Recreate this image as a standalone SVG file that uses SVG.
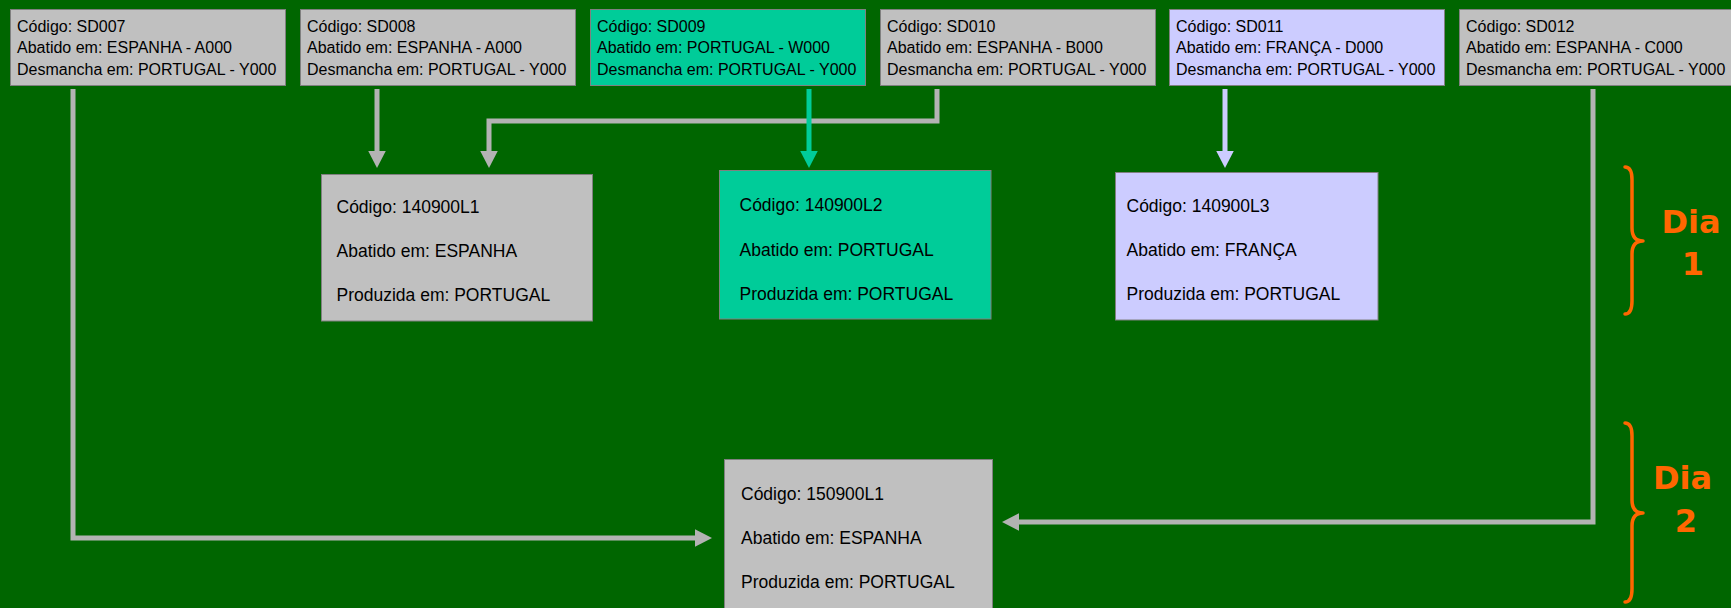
<svg xmlns="http://www.w3.org/2000/svg" width="1731" height="608" viewBox="0 0 1731 608">
  <style>
    .box { stroke: #808080; stroke-width: 1; }
    .gray { fill: #c0c0c0; }
    .teal { fill: #00cc99; }
    .lav { fill: #ccccff; }
    .t16 { font-family: "Liberation Sans", Arial, sans-serif; font-size: 16px; fill: #000; }
    .t17 { font-family: "Liberation Sans", Arial, sans-serif; font-size: 17.5px; fill: #000; }
    .conn { fill: none; stroke-width: 5; stroke-linejoin: miter; }
    .cg { stroke: #b3b3b3; }
    .ct { stroke: #00cc99; }
    .cl { stroke: #ccccff; }
    .brace { fill: none; stroke: #ff6600; stroke-width: 3.5; stroke-linecap: round; stroke-linejoin: round; }
    .dia { font-family: "DejaVu Sans", Verdana, sans-serif; font-weight: bold; font-size: 32px; fill: #ff6600; text-anchor: middle; }
  </style>
  <defs>
    <marker id="ag" markerUnits="userSpaceOnUse" markerWidth="18" markerHeight="18" refX="0" refY="8.75" orient="auto">
      <path d="M0,0 L17,8.75 L0,17.5 z" fill="#b3b3b3"/>
    </marker>
    <marker id="at" markerUnits="userSpaceOnUse" markerWidth="18" markerHeight="18" refX="0" refY="8.75" orient="auto">
      <path d="M0,0 L17,8.75 L0,17.5 z" fill="#00cc99"/>
    </marker>
    <marker id="al" markerUnits="userSpaceOnUse" markerWidth="18" markerHeight="18" refX="0" refY="8.75" orient="auto">
      <path d="M0,0 L17,8.75 L0,17.5 z" fill="#ccccff"/>
    </marker>
  </defs>
  <rect x="0" y="0" width="1731" height="608" fill="#006600"/>

  <g id="connectors">
    <path class="conn cg" d="M73,89 V538 H695" marker-end="url(#ag)"/>
    <path class="conn cg" d="M377,89 V151" marker-end="url(#ag)"/>
    <path class="conn cg" d="M937,89 V121 H489 V151" marker-end="url(#ag)"/>
    <path class="conn ct" d="M809,89 V151" marker-end="url(#at)"/>
    <path class="conn cl" d="M1225,89 V151" marker-end="url(#al)"/>
    <path class="conn cg" d="M1593,89 V522 H1019" marker-end="url(#ag)"/>
  </g>

  <g id="SD007">
    <rect class="box gray" x="10.5" y="9.5" width="275" height="76"/>
    <text class="t16" x="17" y="31.5">Código: SD007</text>
    <text class="t16" x="17" y="53">Abatido em: ESPANHA - A000</text>
    <text class="t16" x="17" y="74.5">Desmancha em: PORTUGAL - Y000</text>
  </g>
  <g id="SD008">
    <rect class="box gray" x="300.5" y="9.5" width="275" height="76"/>
    <text class="t16" x="307" y="31.5">Código: SD008</text>
    <text class="t16" x="307" y="53">Abatido em: ESPANHA - A000</text>
    <text class="t16" x="307" y="74.5">Desmancha em: PORTUGAL - Y000</text>
  </g>
  <g id="SD009">
    <rect class="box teal" x="590.5" y="9.5" width="275" height="76"/>
    <text class="t16" x="597" y="31.5">Código: SD009</text>
    <text class="t16" x="597" y="53">Abatido em: PORTUGAL - W000</text>
    <text class="t16" x="597" y="74.5">Desmancha em: PORTUGAL - Y000</text>
  </g>
  <g id="SD010">
    <rect class="box gray" x="880.5" y="9.5" width="275" height="76"/>
    <text class="t16" x="887" y="31.5">Código: SD010</text>
    <text class="t16" x="887" y="53">Abatido em: ESPANHA - B000</text>
    <text class="t16" x="887" y="74.5">Desmancha em: PORTUGAL - Y000</text>
  </g>
  <g id="SD011">
    <rect class="box lav" x="1169.5" y="9.5" width="275" height="76"/>
    <text class="t16" x="1176" y="31.5">Código: SD011</text>
    <text class="t16" x="1176" y="53">Abatido em: FRANÇA - D000</text>
    <text class="t16" x="1176" y="74.5">Desmancha em: PORTUGAL - Y000</text>
  </g>
  <g id="SD012">
    <rect class="box gray" x="1459.5" y="9.5" width="280" height="76"/>
    <text class="t16" x="1466" y="31.5">Código: SD012</text>
    <text class="t16" x="1466" y="53">Abatido em: ESPANHA - C000</text>
    <text class="t16" x="1466" y="74.5">Desmancha em: PORTUGAL - Y000</text>
  </g>

  <g id="L140900L1">
    <rect class="box gray" x="321.5" y="174.5" width="271" height="146.5"/>
    <text class="t17" x="336.5" y="212.5">Código: 140900L1</text>
    <text class="t17" x="336.5" y="256.5">Abatido em: ESPANHA</text>
    <text class="t17" x="336.5" y="300.5">Produzida em: PORTUGAL</text>
  </g>
  <g id="L140900L2">
    <rect class="box teal" x="719.5" y="170.5" width="271.5" height="148.5"/>
    <text class="t17" x="739.5" y="211">Código: 140900L2</text>
    <text class="t17" x="739.5" y="255.5">Abatido em: PORTUGAL</text>
    <text class="t17" x="739.5" y="299.5">Produzida em: PORTUGAL</text>
  </g>
  <g id="L140900L3">
    <rect class="box lav" x="1115.5" y="172.5" width="262.5" height="147.5"/>
    <text class="t17" x="1126.5" y="211.5">Código: 140900L3</text>
    <text class="t17" x="1126.5" y="256">Abatido em: FRANÇA</text>
    <text class="t17" x="1126.5" y="300">Produzida em: PORTUGAL</text>
  </g>
  <g id="L150900L1">
    <rect class="box gray" x="724.5" y="459.5" width="268" height="160"/>
    <text class="t17" x="741" y="500">Código: 150900L1</text>
    <text class="t17" x="741" y="544">Abatido em: ESPANHA</text>
    <text class="t17" x="741" y="588">Produzida em: PORTUGAL</text>
  </g>

  <g id="dia1">
    <path class="brace" d="M1625,167 Q1632,167 1632,180 V228 Q1632,241 1643,241 Q1632,241 1632,254 V301 Q1632,314 1625,314"/>
    <text class="dia" x="1691" y="233">Dia</text>
    <text class="dia" x="1693" y="275">1</text>
  </g>
  <g id="dia2">
    <path class="brace" d="M1625,423 Q1632,423 1632,436 V500 Q1632,513 1643,513 Q1632,513 1632,526 V589 Q1632,602 1625,602"/>
    <text class="dia" x="1682.5" y="489">Dia</text>
    <text class="dia" x="1686" y="532">2</text>
  </g>
</svg>
